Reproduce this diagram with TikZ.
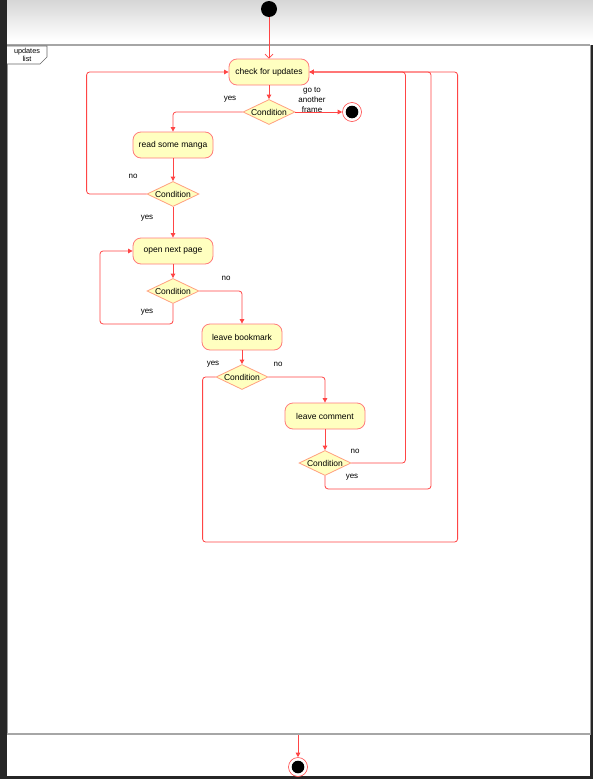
\documentclass[tikz,border=0pt]{standalone}
\usepackage{fontspec}
\setmainfont{Liberation Sans}
\usetikzlibrary{arrows.meta,shapes.geometric,calc}
\definecolor{actfill}{HTML}{FFFFC0}
\definecolor{actline}{HTML}{FF7C7C}
\definecolor{condline}{HTML}{FF9F80}
\definecolor{flowline}{HTML}{FF4545}
\definecolor{darkstrip}{HTML}{262626}
\begin{document}
\begin{tikzpicture}[x=1pt,y=-1pt,
  actbox/.style={draw=actline, fill=actfill, rounded corners=8pt, minimum width=80pt,
    minimum height=26pt, inner sep=0pt, line width=0.8pt, font=\fontsize{8.5}{10}\selectfont},
  condbox/.style={diamond, draw=condline, fill=actfill, minimum width=52pt, minimum height=25pt,
    inner sep=0pt, line width=0.8pt, font=\fontsize{8.5}{10}\selectfont},
  startnode/.style={circle, fill=black, minimum size=16pt, inner sep=0pt},
  endnode/.style={circle, draw=flowline, fill=white, minimum size=19pt, inner sep=0pt, line width=0.6pt,
    path picture={\fill[black] (path picture bounding box.center) circle (6.3pt);}},
  flow/.style={draw=flowline, line width=0.8pt, rounded corners=3pt,
    -{Triangle[length=4.5pt,width=4.5pt]}},
  openflow/.style={draw=flowline, line width=0.7pt, -{Straight Barb[length=4pt,width=8pt]}},
  lbl/.style={font=\fontsize{8}{10}\selectfont, inner sep=0pt}
]
\useasboundingbox (0,0) rectangle (593,779);
% background
\fill[white] (0,0) rectangle (593,779);
\shade[top color=black!16, bottom color=white] (0,0) rectangle (593,40);
\fill[darkstrip] (0,0) rectangle (7,779);
\fill[darkstrip] (590,45) rectangle (593,779);
\fill[darkstrip] (0,776) rectangle (593,779);
% frame
\draw[black!40, line width=1pt] (7,45) rectangle (590,734);
\draw[black!35, line width=1.6pt] (7,45) -- (590,45);
\draw[black!35, line width=1.6pt] (7,734) -- (590,734);
\draw[black!60, line width=0.6pt, fill=white] (7,46) -- (47,46) -- (47,57) -- (40,64) -- (7,64);
\node[align=center, font=\fontsize{7.3}{8}\selectfont, inner sep=0pt] (flabel) at (27,55) {updates\\list};

% nodes
\node[startnode] (init) at (269,9) {};
\node[actbox] (cfu) at (269,72) {check for updates};
\node[condbox] (c1) at (269,112) {\makebox[0pt]{Condition}};
\node[endnode] (fin1) at (352,112) {};
\node[actbox] (rsm) at (173,145) {read some manga};
\node[condbox] (c2) at (173,194) {\makebox[0pt]{Condition}};
\node[actbox] (onp) at (173,251) {open next page};
\node[condbox] (c3) at (173,291) {\makebox[0pt]{Condition}};
\node[actbox] (lb) at (242,337) {leave bookmark};
\node[condbox] (c4) at (242,377) {\makebox[0pt]{Condition}};
\node[actbox] (lc) at (325,416) {leave comment};
\node[condbox] (c5) at (325,463) {\makebox[0pt]{Condition}};
\coordinate (fb) at (298,735);
\node[endnode] (fin2) at (298,767) {};

% labels
\node[lbl] (l1) at (230,99) {yes};
\node[lbl, align=center, font=\fontsize{8}{10}\selectfont] (l2) at (312,100) {go to\\another\\frame};
\node[lbl] (l3) at (133,176) {no};
\node[lbl] (l4) at (147,218) {yes};
\node[lbl] (l5) at (226,278) {no};
\node[lbl] (l6) at (147,312) {yes};
\node[lbl] (l7) at (213,364) {yes};
\node[lbl] (l8) at (278,364) {no};
\node[lbl] (l9) at (355,451) {no};
\node[lbl] (l10) at (352,477) {yes};

% connectors
\draw[openflow] (init) -- (cfu);
\draw[flow] (cfu) -- (c1);
\draw[flow] (c1) -- (fin1);
\draw[flow] (c1.west) -| (rsm.north);
\draw[flow] (rsm) -- (c2);
\draw[flow] (c2.west) -- ++(-60,0) |- (cfu.west);
\draw[flow] (c2) -- (onp);
\draw[flow] (onp) -- (c3);
\draw[flow] (c3.east) -| (lb.north);
\draw[flow] (c3.south) -- ++(0,20) -- ++(-73,0) |- (onp.west);
\draw[flow] (lb) -- (c4);
\draw[flow] (c4.east) -| (lc.north);
\draw[flow] (c4.west) -- ++(-13,0) -- ++(0,165) -- ++(255,0) |- (cfu.east);
\draw[flow] (lc) -- (c5);
\draw[flow] (c5.east) -- ++(54,0) |- (cfu.east);
\draw[flow] (c5.south) -- ++(0,13) -- ++(106,0) |- (cfu.east);
\draw[flow] (fb) -- (fin2);
\end{tikzpicture}
\end{document}
